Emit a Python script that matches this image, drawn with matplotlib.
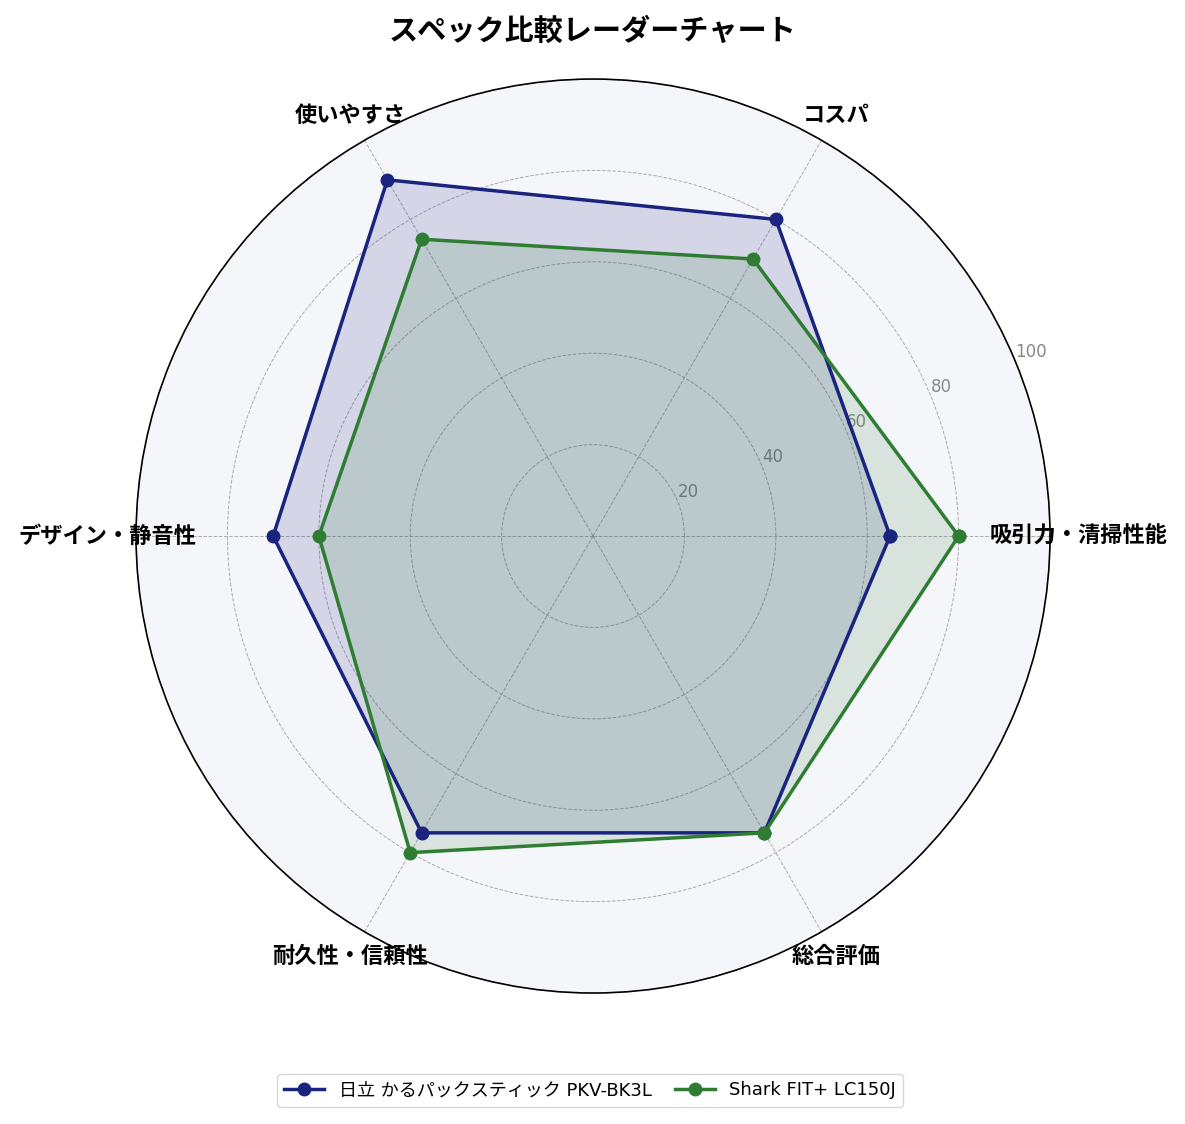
import numpy as np
import matplotlib
matplotlib.use("Agg")
import matplotlib.pyplot as plt

plt.rcParams['font.family'] = ['Noto Sans CJK JP', 'DejaVu Sans']
latin_first = ['DejaVu Sans', 'Noto Sans CJK JP']

# data
categories = ['吸引力・清掃性能', 'コスパ', '使いやすさ', 'デザイン・静音性', '耐久性・信頼性', '総合評価']
hitachi = [65, 80, 90, 70, 75, 75]
shark = [80, 70, 75, 60, 80, 75]
names = ['日立 かるパックスティック PKV-BK3L', 'Shark FIT+ LC150J']
colors = ['#1a237e', '#2e7d32']
rticks = [20, 40, 60, 80, 100]

angles = np.linspace(0, 2 * np.pi, len(categories), endpoint=False)
angles_c = np.concatenate([angles, angles[:1]])

fig = plt.figure(figsize=(11.85, 11.24), dpi=100)
ax = fig.add_axes([0.1148, 0.1165, 0.7713, 0.8132], polar=True)
ax.set_facecolor('#f5f6fa')

for vals, name, col in zip([hitachi, shark], names, colors):
    v = np.concatenate([vals, vals[:1]])
    ax.plot(angles_c, v, '-o', color=col, lw=2.5, ms=9, label=name, zorder=3)
    ax.fill(angles_c, v, color=col, alpha=0.15, zorder=2)

ax.set_ylim(0, 100)
ax.set_rticks(rticks)
ax.set_yticklabels([str(t) for t in rticks], color='#888888', fontsize=12,
                   family=latin_first)
ax.set_rlabel_position(22.5)
ax.set_thetagrids(np.degrees(angles), categories, fontsize=16, fontweight='bold')
ax.tick_params(axis='x', pad=10)
ax.grid(color='#999999', ls='--', lw=0.7, alpha=0.8)
ax.spines['polar'].set_color('black')
ax.spines['polar'].set_linewidth(1.2)

fig.suptitle('スペック比較レーダーチャート', fontsize=21, fontweight='bold', y=0.986)
fig.legend(loc='center', bbox_to_anchor=(0.498, 0.030), ncol=2,
           prop={'family': latin_first, 'size': 13},
           handlelength=2.2, columnspacing=1.3, borderpad=0.4)

fig.savefig('out.png', dpi=100)
